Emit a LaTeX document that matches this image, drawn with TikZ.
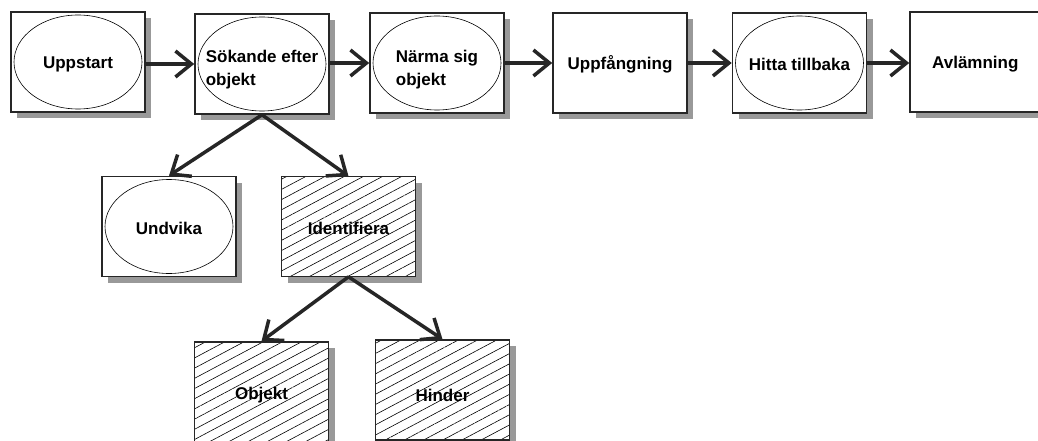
\documentclass[tikz,border=0pt]{standalone}
\usepackage{fontspec}
\setmainfont{Liberation Sans}
\usetikzlibrary{shadows,patterns.meta,arrows.meta,shapes.geometric}
\definecolor{ink}{HTML}{262626}
\begin{document}
\begin{tikzpicture}[x=1pt,y=-1pt,
  every node/.style={font=\bfseries\fontsize{17}{23}\selectfont, text=black},
  shd/.style={drop shadow={shadow xshift=6pt, shadow yshift=-6pt, fill=black!40, opacity=1}},
  box/.style={draw=ink, line width=1.6pt, fill=white, minimum width=134pt, minimum height=100pt, inner sep=0pt, shd},
  hbox/.style={draw=ink, line width=1.6pt, minimum width=134pt, minimum height=100pt, inner sep=0pt,
    preaction={shd}, preaction={fill=white},
    pattern={Lines[angle=28,distance=9pt,line width=0.6pt]}, pattern color=black},
  oval/.style={draw=black, ellipse, line width=0.6pt, minimum width=128pt, minimum height=94pt, inner sep=0pt},
  lbl/.style={align=left, inner sep=0pt},
  arr/.style={draw=ink, line width=3.5pt, -{Straight Barb[length=16pt,width=26pt,line width=3.5pt]}}
]
\clip (0,0) rectangle (1038,441);
\fill[white] (0,0) rectangle (1038,441);
% top row
\node[box] (b1) at (78,62) {};
\node[oval] (e1) at (b1) {};
\node[lbl] (t1) at (78,64) {Uppstart};
\node[box] (b2) at (262,64) {};
\node[oval] (e2) at (b2) {};
\node[lbl] (t2) at (262,70) {Sökande efter\\objekt};
\node[box] (b3) at (437,63) {};
\node[oval] (e3) at (b3) {};
\node[lbl] (t3) at (437,70) {Närma sig\\objekt};
\node[box] (b4) at (620,63) {};
\node[lbl] (t4) at (620,64) {Uppfångning};
\node[box] (b5) at (799.5,63) {};
\node[oval] (e5) at (b5) {};
\node[lbl] (t5) at (799.5,64) {Hitta tillbaka};
\node[box, minimum width=135pt] (b6) at (977.5,62) {};
\node[lbl, anchor=west] (t6) at (932,64) {Avlämning};
% second row
\node[box] (u) at (169,226.5) {};
\node[oval] (eu) at (u) {};
\node[lbl] (tu) at (169,228) {Undvika};
\node[hbox] (id) at (348.5,226.5) {};
\node[lbl] (tid) at (348.5,228) {Identifiera};
% third row
\node[hbox] (ob) at (261.5,392) {};
\node[lbl] (tob) at (261.5,395) {Objekt};
\node[hbox] (hi) at (442.5,390) {};
\node[lbl] (thi) at (442.5,395) {Hinder};
% connectors
\draw[arr] (b1.east |- 0,64) -- (b2.west |- 0,64);
\draw[arr] (b2.east |- 0,63) -- (b3.west |- 0,63);
\draw[arr] (b3.east |- 0,63) -- (b4.west |- 0,63);
\draw[arr] (b4.east |- 0,63) -- (b5.west |- 0,63);
\draw[arr] (b5.east |- 0,63) -- (b6.west |- 0,63);
\draw[arr] (b2.south) -- (u.north);
\draw[arr] (b2.south) -- (id.north);
\draw[arr] (id.south) -- (ob.north);
\draw[arr] (id.south) -- (hi.north);
\end{tikzpicture}
\end{document}
